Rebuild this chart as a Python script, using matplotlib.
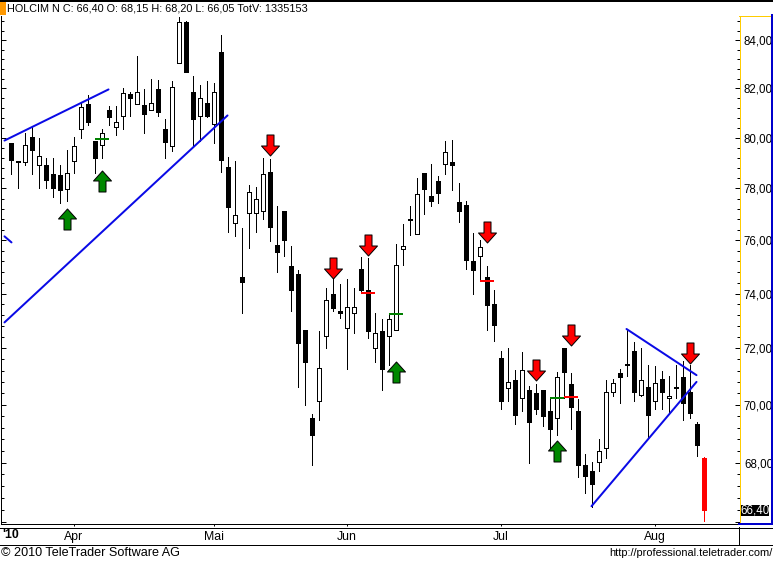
import matplotlib
matplotlib.use("Agg")
import matplotlib.pyplot as plt
import numpy as np
from matplotlib.lines import Line2D
from matplotlib.patches import Rectangle
from matplotlib.path import Path
from matplotlib.ticker import FixedLocator, NullFormatter
from matplotlib.transforms import Affine2D

plt.rcParams['font.family'] = ['Liberation Sans', 'DejaVu Sans']

highs = [79.80,79.06,80.21,80.42,80.00,79.21,79.21,78.90,79.53,80.04,
         81.39,81.72,79.88,80.34,81.27,81.27,82.00,81.84,83.33,81.96,
         82.37,82.33,80.74,82.29,85.00,84.83,82.50,82.13,82.29,82.21,
         84.21,79.25,79.06,76.46,78.12,78.04,79.21,79.14,77.31,77.11,
         75.77,74.87,72.65,69.66,72.61,74.19,74.56,74.34,74.56,74.19,
         75.36,75.32,73.30,73.05,73.23,75.85,76.62,77.31,78.39,78.59,
         78.94,78.47,79.88,79.92,78.20,77.50,76.27,76.00,75.02,74.15,
         71.89,72.00,71.22,71.86,70.65,70.72,70.50,70.22,71.15,72.00,
         71.11,70.18,68.28,68.03,68.79,70.86,70.90,71.25,72.70,72.22,
         72.00,71.39,71.36,71.18,71.00,71.39,71.54,71.39,69.38,68.20]
body_tops = [79.80,79.06,79.72,80.05,79.29,78.90,78.55,78.51,78.59,79.69,
             81.23,81.35,79.88,80.21,81.11,80.62,81.80,81.76,81.84,81.31,
             81.39,81.96,80.34,82.04,84.79,84.79,81.84,81.59,81.39,81.84,
             83.50,78.82,76.96,74.61,77.85,77.58,78.55,78.66,75.81,77.11,
             75.02,74.72,72.65,69.55,71.29,73.78,74.00,73.34,73.49,73.49,
             74.91,74.15,72.54,72.61,73.05,75.06,75.77,76.81,77.77,78.59,
             77.69,78.27,79.45,79.02,77.46,77.35,75.21,75.74,74.61,73.60,
             71.64,70.79,70.86,71.22,70.50,70.40,70.50,69.76,70.97,72.00,
             70.72,69.79,67.93,67.70,68.38,70.43,70.75,71.11,71.43,71.89,
             70.86,70.61,70.75,70.90,70.29,70.61,70.97,70.43,69.31,68.15]
body_bottoms = [79.10,79.02,79.02,79.53,78.90,78.31,78.00,77.92,77.96,79.06,
                80.34,80.62,79.21,79.72,80.82,80.42,80.86,81.59,81.35,80.94,
                81.11,81.03,79.84,79.69,83.04,82.67,80.74,80.86,80.86,80.54,
                79.10,77.27,76.65,74.42,77.04,77.04,77.11,76.50,75.55,76.00,
                74.15,72.21,71.50,68.93,70.11,72.43,73.45,73.30,72.72,73.27,
                74.15,72.61,72.00,71.25,72.46,72.68,75.66,76.77,76.23,77.96,
                77.50,77.81,78.94,78.90,77.11,75.25,74.87,75.40,73.56,72.83,
                70.14,70.58,69.62,70.22,69.38,69.83,69.59,69.14,69.52,71.15,
                69.93,67.93,67.53,67.26,68.03,68.48,70.43,70.97,71.39,70.43,
                70.33,69.62,70.14,70.43,70.22,70.58,70.04,69.72,68.59,66.40]
lows = [78.55,78.00,78.90,78.55,78.00,78.00,77.65,77.42,77.50,78.59,
        80.00,80.50,78.59,79.21,80.50,80.13,80.34,80.86,81.35,80.21,
        81.11,80.86,79.21,79.49,83.04,82.67,79.72,79.88,80.82,79.80,
        78.66,76.31,76.15,73.27,75.70,76.31,76.81,75.96,74.80,75.40,
        73.34,70.61,70.00,67.93,69.48,72.00,73.34,73.09,71.25,72.54,
        74.04,72.39,71.50,70.50,71.39,72.65,75.06,76.19,76.23,77.00,
        77.31,77.42,78.55,77.92,76.69,74.91,74.00,74.46,72.65,72.26,
        69.83,70.14,69.34,69.79,68.00,69.66,69.24,68.48,68.93,70.22,
        69.14,67.50,66.96,66.49,67.70,68.14,70.29,70.04,71.00,70.14,
        70.29,68.83,69.86,69.86,69.69,70.22,69.48,69.52,68.21,66.05]
white_bars = [2,4,8,9,10,13,15,16,18,20,23,24,27,29,32,34,35,36,44,45,48,49,
              52,54,55,56,58,62,67,71,73,78,84,85,86,90,92,94]
last_bar = 99

up_arrow_idx = [8, 13, 55, 78]
up_arrow_price = [76.83, 78.27, 71.15, 68.38]
down_arrow_idx = [37, 46, 51, 68, 75, 80, 97]
down_arrow_price = [79.70, 74.95, 75.83, 76.33, 71.23, 72.48, 71.84]

green_levels = [(12, 14, 79.96), (54, 56, 73.23), (77, 79, 70.22)]
red_levels = [(50, 52, 74.04), (67, 69, 74.46), (79, 81, 70.25)]

trendlines = [((-0.93, 13.93), (79.89, 81.96)),
              ((-0.93, 30.93), (72.94, 80.90)),
              ((-0.93, 0.07), (76.15, 75.92)),
              ((82.93, 97.93), (66.53, 70.80)),
              ((87.93, 97.93), (72.70, 71.04))]

month_idx = [9, 29, 48, 70, 92]
month_labels = ['Apr', 'Mai', 'Jun', 'Jul', 'Aug']
major_prices = [66, 68, 70, 72, 74, 76, 78, 80, 82, 84]
price_labels = ['', '68,00', '70,00', '72,00', '74,00', '76,00', '78,00', '80,00', '82,00', '84,00']
last_price_label = '66,40'
header = 'HOLCIM N C: 66,40 O: 68,15 H: 68,20 L: 66,05 TotV: 1335153'

W, H = 773, 562
fig = plt.figure(figsize=(W / 100, H / 100), dpi=100, facecolor='white')
PX = 72 / 100


def fx(x):
    return x / W


def fy(y):
    return 1 - y / H


PL, PR, PT, PB = 0.5, 739.5, 15.5, 524.0
ax = fig.add_axes([fx(PL), fy(PB), (PR - PL) / W, (PB - PT) / H])
ax.set_yscale('log')
ax.set_xlim((PL - 11.0) / 7, (PR - 11.0) / 7)
ax.set_ylim(65.94, 85.05)

idx = np.arange(len(highs))
colors = ['#ff0000' if i == last_bar else ('white' if i in white_bars else 'black') for i in idx]
wick_colors = ['#ff0000' if i == last_bar else 'black' for i in idx]
ax.vlines(idx, lows, highs, colors=wick_colors, linewidth=1 * PX, antialiased=False, zorder=2)
tops = np.array(body_tops)
bottoms = np.array(body_bottoms)
edge = ['#ff0000' if i == last_bar else 'black' for i in idx]
ax.bar(idx, tops - bottoms, bottom=bottoms, width=4.4 / 7, color=colors, edgecolor=edge,
       linewidth=1 * PX, antialiased=False, zorder=3)

for a, b, p in green_levels:
    ax.plot([a, b], [p, p], color='#008000', lw=2 * PX, solid_capstyle='butt', antialiased=False, zorder=4)
for a, b, p in red_levels:
    ax.plot([a, b], [p, p], color='#ff0000', lw=2 * PX, solid_capstyle='butt', antialiased=False, zorder=4)

for xs, ys in trendlines:
    ax.plot(xs, ys, color='#0a0ae6', lw=2 * PX, solid_capstyle='round', zorder=5)

arrow_up = Path(np.array([(-3.5, -10.5), (3.5, -10.5), (3.5, 0.5), (9, 0.5), (0, 10.5),
                          (-9, 0.5), (-3.5, 0.5), (-3.5, -10.5)]), closed=True)
arrow_down = arrow_up.transformed(Affine2D().scale(1, -1))
msize = 21 * PX
ax.plot(up_arrow_idx, up_arrow_price, ls='none', marker=arrow_up, ms=msize,
        mfc='#008800', mec='black', mew=1 * PX, zorder=6)
ax.plot(down_arrow_idx, down_arrow_price, ls='none', marker=arrow_down, ms=msize,
        mfc='#ff0000', mec='black', mew=1 * PX, zorder=6)

ax.yaxis.set_major_locator(FixedLocator(major_prices))
ax.yaxis.set_minor_locator(FixedLocator(np.arange(66, 85.2, 0.4)))
ax.yaxis.set_major_formatter(plt.FixedFormatter(price_labels))
ax.yaxis.set_minor_formatter(NullFormatter())
ax.tick_params(axis='y', which='major', left=True, right=True, labelleft=False, labelright=True,
               direction='in', length=5 * PX, width=1 * PX, pad=3.2, labelsize=8.3)
ax.tick_params(axis='y', which='minor', left=True, right=True, direction='in',
               length=3 * PX, width=1 * PX)
ax.set_xticks(month_idx)
ax.set_xticklabels(month_labels, fontsize=8.8)
ax.tick_params(axis='x', which='major', direction='out', length=2 * PX, width=1 * PX, pad=3.8)
ax.xaxis.set_minor_locator(FixedLocator([]))

ax.spines['top'].set_visible(False)
ax.spines['right'].set_color('#ffcc00')
ax.spines['right'].set_linewidth(1 * PX)
ax.spines['left'].set_color('black')
ax.spines['left'].set_linewidth(1 * PX)
ax.spines['bottom'].set_color('black')
ax.spines['bottom'].set_linewidth(1 * PX)


def hline(y, x0, x1, color='black', lw=1):
    fig.add_artist(Line2D([fx(x0), fx(x1)], [fy(y), fy(y)], color=color, lw=lw * PX, antialiased=False))


def vline(x, y0, y1, color='black', lw=1):
    fig.add_artist(Line2D([fx(x), fx(x)], [fy(y0), fy(y1)], color=color, lw=lw * PX, antialiased=False))


hline(0.5, 0, W, lw=2)
fig.add_artist(Rectangle((fx(0), fy(15)), 6 / W, 13.5 / H, transform=fig.transFigure,
                         facecolor='#ff9900', edgecolor='none'))
fig.text(fx(7), fy(8.3), header, fontsize=7.8, va='center', ha='left', color='black')

hline(15.5, 739, 771, color='#ffcc00')
vline(771.5, 15, 524, color='#0000cc', lw=2)
hline(523.5, 739, 772, color='#0000cc', lw=2)
hline(527.5, 0, W)
hline(544.5, 0, W)
vline(738.5, 527, 545)
vline(772.5, 527, 545)

fig.add_artist(Rectangle((fx(741), fy(515.5)), 28 / W, 11 / H, transform=fig.transFigure,
                         facecolor='black', edgecolor='none', zorder=5))
fig.text(fx(755), fy(510.3), last_price_label, fontsize=8.3, color='white', ha='center', va='center', zorder=6)

fig.text(fx(2), fy(535), "'10", fontsize=8.8, fontweight='bold', ha='left', va='center')
fig.text(fx(1), fy(552.5), '\u00a9 2010 TeleTrader Software AG', fontsize=9.1, ha='left', va='center')
fig.text(fx(773), fy(553), 'http://professional.teletrader.com/', fontsize=7.9, ha='right', va='center')

fig.savefig('out.png', dpi=100, facecolor='white')
